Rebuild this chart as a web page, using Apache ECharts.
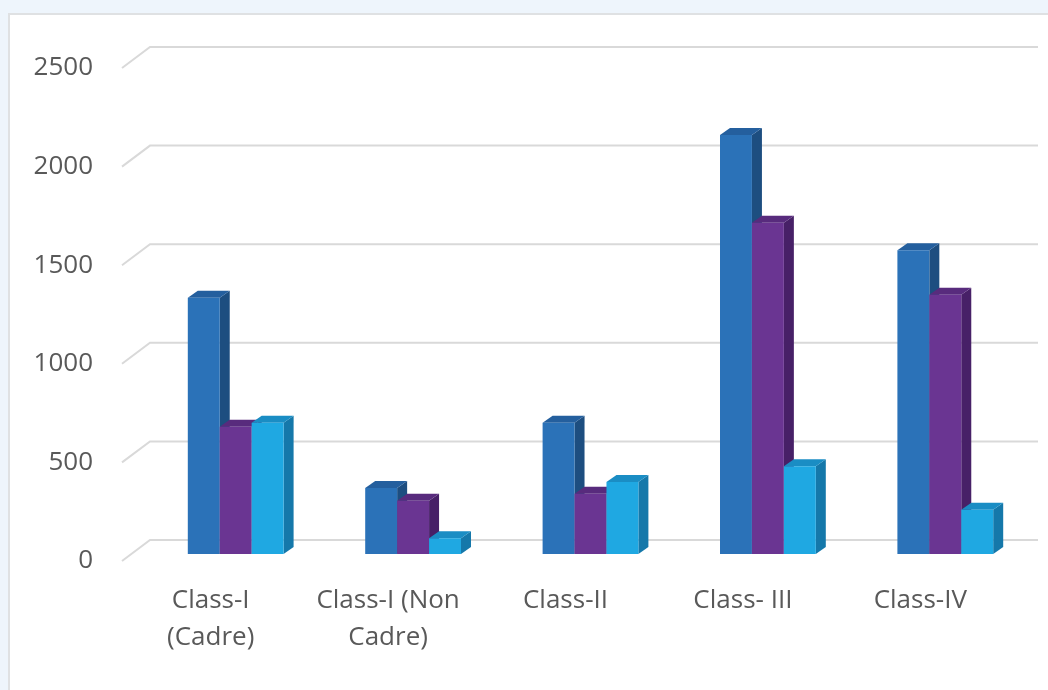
<!DOCTYPE html>
<html>
<head>
<meta charset="utf-8">
<script src="https://cdn.jsdelivr.net/npm/echarts@6/dist/echarts.min.js"></script>
<style>
  html, body { margin: 0; padding: 0; width: 1048px; height: 690px; overflow: hidden; background: #eef5fc; }
  #panel { position: absolute; left: 8px; top: 13px; width: 1100px; height: 720px; background: #ffffff; border: 2px solid #dfe1e3; }
  #chart { position: absolute; left: 0; top: 0; width: 1048px; height: 690px; }
</style>
</head>
<body>
<div id="panel"></div>
<div id="chart"></div>
<script>
// Employee strength by class, three groups per class
const categories = ['Class-I\n(Cadre)', 'Class-I (Non\nCadre)', 'Class-II', 'Class- III', 'Class-IV'];
const seriesBlue = [1300, 335, 665, 2125, 1540];
const seriesPurple = [645, 270, 305, 1680, 1315];
const seriesCyan = [665, 80, 365, 445, 225];
const yTicks = [0, 500, 1000, 1500, 2000, 2500];

// Pseudo-3D styling
const BAR_RATIO = 0.18;         // bar width as share of category band
const CLUSTER_SHIFT = [25, -7]; // bars stand a little behind the front plane
const DEPTH = [10, -7];         // thickness of each column
const WALL = [28, -21];         // distance from front plane to back wall

const faces = [
  { front: '#2b72b8', top: '#245f9e', side: '#1d4e80' },
  { front: '#6a3592', top: '#582b7d', side: '#472067' },
  { front: '#1fa8e2', top: '#1a8dc4', side: '#1578aa' }
];

const barData = categories.map((c, i) => [i, seriesBlue[i], seriesPurple[i], seriesCyan[i]]);
const gridData = yTicks.map(v => [0, v]);

function renderGridLine(params, api) {
  const cs = params.coordSys;
  const y = api.coord([0, api.value(1)])[1];
  return {
    type: 'polyline',
    shape: { points: [[cs.x, y], [cs.x + WALL[0], y + WALL[1]], [cs.x + cs.width + WALL[0] + 1, y + WALL[1]]] },
    style: { stroke: '#d9d9d9', lineWidth: 2, fill: null }
  };
}

function renderBars(params, api) {
  const i = api.value(0);
  const base = api.coord([i, 0]);
  const band = api.size([1, 0])[0];
  const w = band * BAR_RATIO;
  const cx = base[0] + CLUSTER_SHIFT[0];
  const y0 = base[1] + CLUSTER_SHIFT[1];
  const children = [];
  for (let s = 0; s < 3; s++) {
    const top = api.coord([i, api.value(s + 1)])[1] + CLUSTER_SHIFT[1];
    const x = cx + (s - 1.5) * w;
    const c = faces[s];
    children.push({
      type: 'polygon',
      shape: { points: [[x + w, top], [x + w + DEPTH[0], top + DEPTH[1]], [x + w + DEPTH[0], y0 + DEPTH[1]], [x + w, y0]] },
      style: { fill: c.side }
    });
    children.push({
      type: 'polygon',
      shape: { points: [[x, top], [x + w, top], [x + w + DEPTH[0], top + DEPTH[1]], [x + DEPTH[0], top + DEPTH[1]]] },
      style: { fill: c.top }
    });
    children.push({
      type: 'rect',
      shape: { x: x, y: top, width: w, height: y0 - top },
      style: { fill: c.front }
    });
  }
  return { type: 'group', children: children };
}

const chart = echarts.init(document.getElementById('chart'), null, { renderer: 'canvas' });
chart.setOption({
  animation: false,
  backgroundColor: 'transparent',
  grid: { left: 122, right: 39, top: 68, bottom: 129, containLabel: false },
  xAxis: {
    type: 'category',
    data: categories,
    axisLine: { show: false },
    axisTick: { show: false },
    axisLabel: {
      interval: 0,
      margin: 21,
      color: '#595959',
      fontFamily: 'Open Sans',
      fontSize: 26,
      lineHeight: 37
    }
  },
  yAxis: {
    type: 'value',
    min: 0,
    max: 2500,
    interval: 500,
    axisLine: { show: false },
    axisTick: { show: false },
    splitLine: { show: false },
    axisLabel: {
      margin: 29,
      color: '#595959',
      fontFamily: 'Open Sans',
      fontSize: 26,
      formatter: v => String(v)
    }
  },
  series: [
    {
      type: 'custom',
      name: 'gridlines',
      data: gridData,
      encode: { x: 0, y: 1 },
      renderItem: renderGridLine,
      silent: true,
      z: 1
    },
    {
      type: 'custom',
      name: 'columns',
      data: barData,
      encode: { x: 0, y: [1, 2, 3] },
      renderItem: renderBars,
      z: 2
    }
  ]
});
</script>
</body>
</html>
